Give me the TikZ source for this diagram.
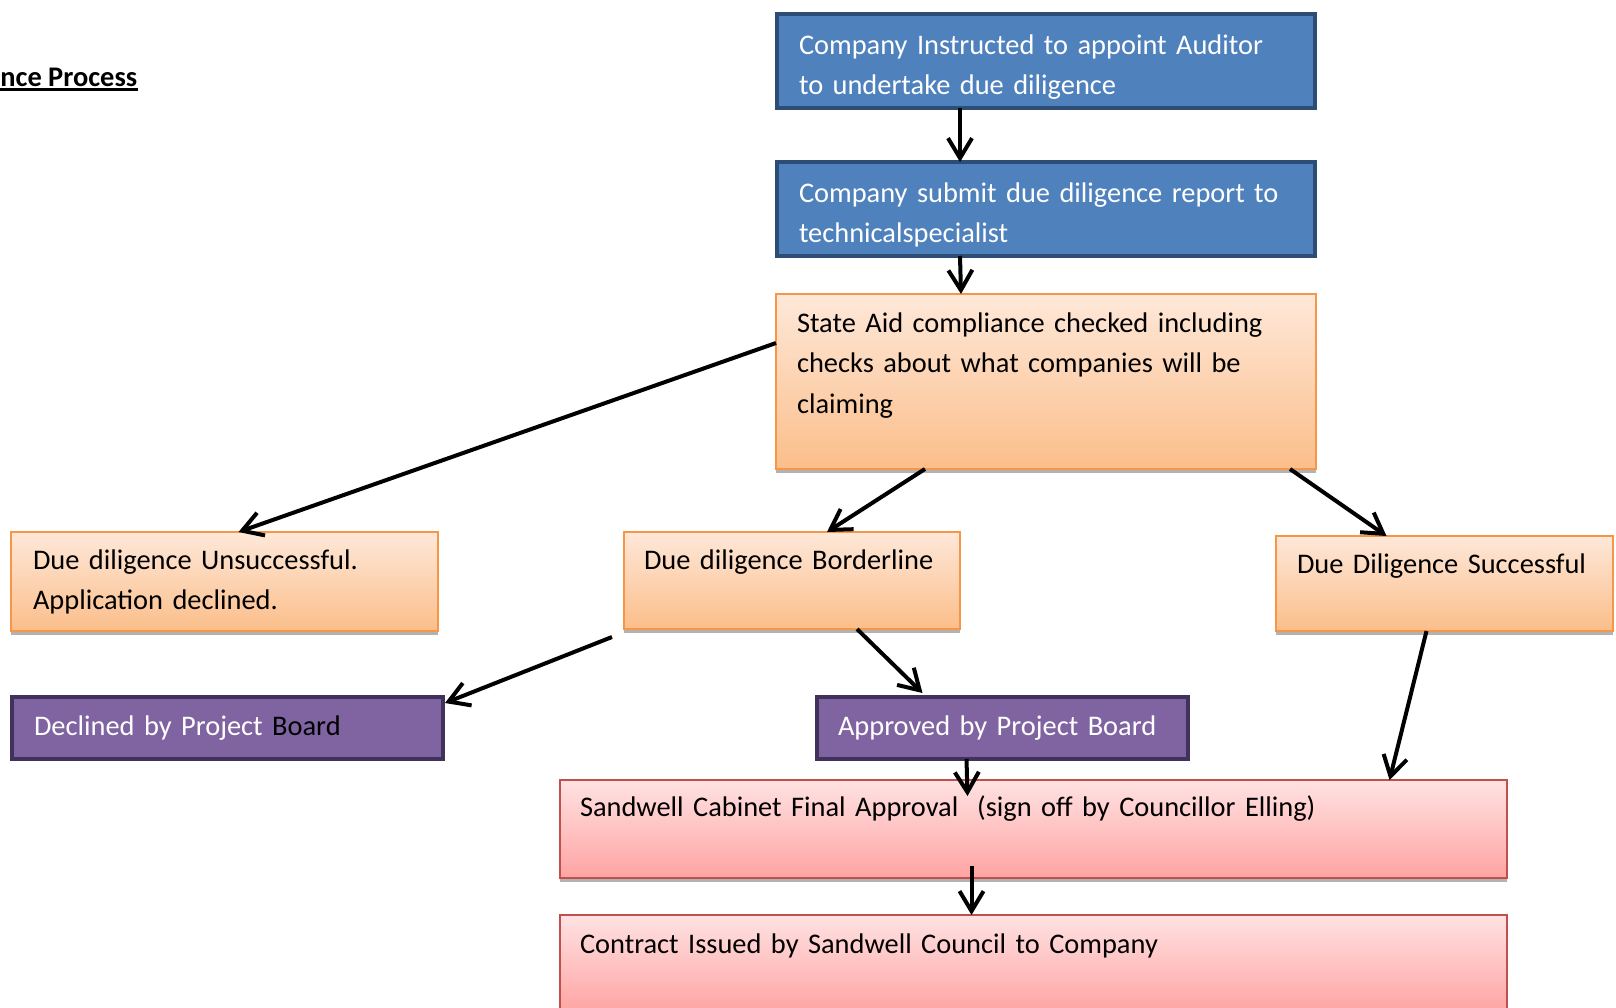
\documentclass[tikz,border=0pt]{standalone}
\usepackage{fontspec}
\setmainfont{Carlito}
\usetikzlibrary{arrows.meta,shadows}

\definecolor{instrfill}{HTML}{4F81BD}
\definecolor{instredge}{HTML}{2C4D75}
\definecolor{peachtop}{HTML}{FEE8D9}
\definecolor{peachbot}{HTML}{FBBE8A}
\definecolor{peachedge}{HTML}{F79646}
\definecolor{pinktop}{HTML}{FFE2E2}
\definecolor{pinkbot}{HTML}{FFA3A3}
\definecolor{pinkedge}{HTML}{C0504D}
\definecolor{boardfill}{HTML}{8064A2}
\definecolor{boardedge}{HTML}{40325A}
\newcommand{\boxfont}{\fontsize{14.2}{20.25}\selectfont\hyphenpenalty=10000\relax}

\begin{document}
\begin{tikzpicture}[x=0.5pt,y=-0.5pt,>={Straight Barb[length=10pt,width=12pt]},
  dims/.style n args={4}{text width=#1,inner xsep=#2,text height=#3,text depth=#4}]
  \tikzstyle{box}=[anchor=north west,outer sep=0pt,inner ysep=0pt,align=left,font=\boxfont]
  \tikzstyle{bluebox}=[box,fill=instrfill,draw=instredge,line width=2pt,text=white]
  \tikzstyle{peachbox}=[box,top color=peachtop,bottom color=peachbot,draw=peachedge,line width=0.8pt,general shadow={fill=gray!60,shadow yshift=-2pt}]
  \tikzstyle{pinkbox}=[box,top color=pinktop,bottom color=pinkbot,draw=pinkedge,line width=0.8pt,general shadow={fill=gray!60,shadow yshift=-2pt}]
  \tikzstyle{boardbox}=[box,fill=boardfill,draw=boardedge,line width=2pt,text=white]
  \tikzstyle{flow}=[line width=2pt,->]
  \useasboundingbox (0,0) rectangle (1616,1007);

  \node[anchor=base west,inner sep=0pt,font=\bfseries\boxfont] (title) at (0,86) {nce Process};
  \draw[line width=1.4pt] ([yshift=-1.6pt]title.base west) -- ([yshift=-1.6pt]title.base east);

  % main line
  \node[bluebox,dims={247pt}{11pt}{20pt}{27pt}] (instr) at (777,14) {Company Instructed to appoint Auditor\\to undertake due diligence};
  \node[bluebox,dims={247pt}{11pt}{20pt}{27pt}] (submit) at (777,162) {Company submit due diligence report to\\technicalspecialist};
  \node[peachbox,dims={249pt}{10.5pt}{19pt}{68.5pt}] (check) at (776,294) {State Aid compliance checked including\\checks about what companies will be\\claiming};

  % outcomes
  \node[peachbox,dims={191.5pt}{11pt}{18.5pt}{31pt}] (unsucc) at (11,532) {Due diligence Unsuccessful.\\Application declined.};
  \node[peachbox,dims={148pt}{10pt}{18.5pt}{30pt}] (border) at (624,532) {Due diligence Borderline};
  \node[peachbox,dims={147.5pt}{10.5pt}{18.5pt}{29pt}] (success) at (1276,536) {Due Diligence Successful};

  \node[boardbox,dims={193.5pt}{11pt}{19pt}{12pt}] (declined) at (12,697) {Declined by Project {\color{black}Board}};
  \node[boardbox,dims={164.5pt}{10.5pt}{19pt}{12pt}] (approved) at (817,697) {Approved by Project Board};

  \node[pinkbox,dims={453.5pt}{10pt}{18pt}{31pt}] (cabinet) at (560,780) {Sandwell Cabinet Final Approval\ \ (sign off by Councillor Elling)};
  \node[pinkbox,dims={453.5pt}{10pt}{19pt}{30pt}] (contract) at (560,915) {Contract Issued by Sandwell Council to Company};

  \draw[flow] ([xshift=-43pt]instr.south) -- ([xshift=-43pt]submit.north);
  \draw[flow] ([xshift=-43pt]submit.south) -- ([xshift=-42.5pt]check.north);
  \draw[flow] ([yshift=-24.5pt]check.north west) -- ([xshift=7pt]unsucc.north);
  \draw[flow] ([xshift=-60.5pt]check.south) -- ([xshift=17.5pt]border.north);
  \draw[flow] ([xshift=122pt]check.south) -- ([xshift=-29pt]success.north);
  \draw[flow] ([xshift=-6pt,yshift=-4pt]border.south west) -- ([xshift=1pt,yshift=-3pt]declined.north east);
  \draw[flow] ([xshift=32.5pt]border.south) -- ([xshift=-40pt,yshift=2pt]approved.north);
  \draw[flow] ([xshift=-9pt]success.south) -- ([xshift=178pt]cabinet.north);
  \draw[flow] ([xshift=-18pt]approved.south) -- ([xshift=-33pt,yshift=-8pt]cabinet.north);
  \draw[flow] ([xshift=-31pt,yshift=6pt]cabinet.south) -- ([xshift=-31pt]contract.north);
\end{tikzpicture}
\end{document}
